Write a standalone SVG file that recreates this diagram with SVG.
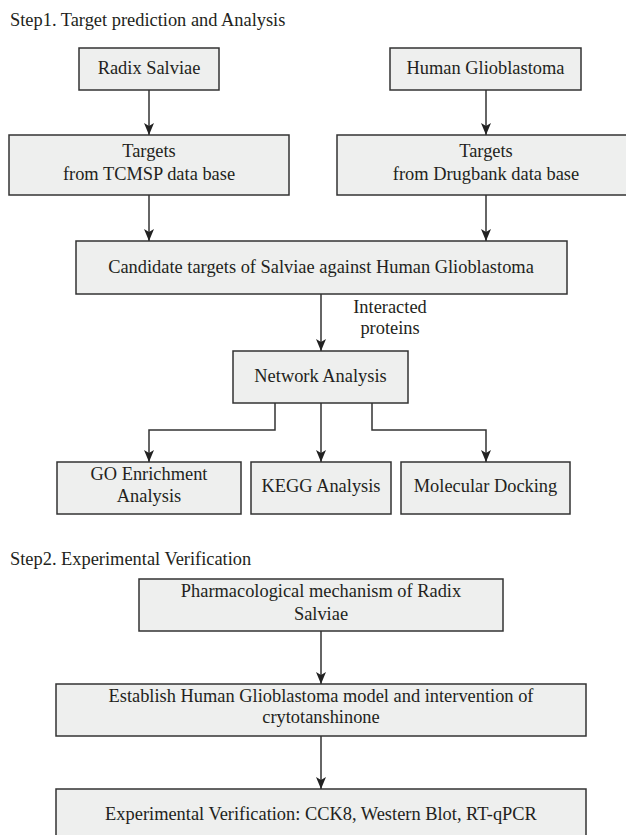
<svg xmlns="http://www.w3.org/2000/svg" width="626" height="835" viewBox="0 0 626 835">
<style>
  .box { fill: #eeefee; stroke: #333333; stroke-width: 1.5; }
  text { font-family: "Liberation Serif", "Times New Roman", serif; font-size: 18.4px; fill: #231f20; }
  .c { text-anchor: middle; }
  .conn { fill: none; stroke: #333333; stroke-width: 1.5; marker-end: url(#arrow); }
</style>
<defs>
  <marker id="arrow" viewBox="0 0 12 10" refX="12" refY="5" markerWidth="12" markerHeight="10" markerUnits="userSpaceOnUse" orient="auto">
    <path d="M0,0 L12,5 L0,10 L3,5 Z" fill="#222222"/>
  </marker>
</defs>
<rect width="626" height="835" fill="#ffffff"/>

<text id="step1" x="10" y="26">Step1. Target prediction and Analysis</text>

<g id="radix">
  <rect class="box" x="79" y="48" width="140" height="42"/>
  <text class="c" x="149" y="74">Radix Salviae</text>
</g>
<g id="human">
  <rect class="box" x="390" y="48" width="191" height="42"/>
  <text class="c" x="485.5" y="74">Human Glioblastoma</text>
</g>
<g id="tcmsp">
  <rect class="box" x="9" y="135" width="280" height="60"/>
  <text class="c" x="149" y="157">Targets</text>
  <text class="c" x="149" y="180">from TCMSP data base</text>
</g>
<g id="drugbank">
  <rect class="box" x="337" y="135" width="300" height="60"/>
  <text class="c" x="486" y="157">Targets</text>
  <text class="c" x="486" y="180">from Drugbank data base</text>
</g>
<g id="candidate">
  <rect class="box" x="76" y="241" width="491" height="53"/>
  <text class="c" x="321" y="273">Candidate targets of Salviae against Human Glioblastoma</text>
</g>
<g id="network">
  <rect class="box" x="233" y="351" width="175" height="52"/>
  <text class="c" x="320.5" y="382">Network Analysis</text>
</g>
<g id="go">
  <rect class="box" x="57" y="462" width="184" height="52"/>
  <text class="c" x="149" y="480">GO Enrichment</text>
  <text class="c" x="149" y="502">Analysis</text>
</g>
<g id="kegg">
  <rect class="box" x="251" y="462" width="140" height="52"/>
  <text class="c" x="321" y="492">KEGG Analysis</text>
</g>
<g id="docking">
  <rect class="box" x="401" y="462" width="169" height="52"/>
  <text class="c" x="485.5" y="492">Molecular Docking</text>
</g>

<text id="step2" x="10" y="565">Step2. Experimental Verification</text>

<g id="pharma">
  <rect class="box" x="139" y="579" width="364" height="52"/>
  <text class="c" x="321" y="597">Pharmacological mechanism of Radix</text>
  <text class="c" x="321" y="620">Salviae</text>
</g>
<g id="establish">
  <rect class="box" x="56" y="684" width="530" height="52"/>
  <text class="c" x="321" y="702">Establish Human Glioblastoma model and intervention of</text>
  <text class="c" x="321" y="723">crytotanshinone</text>
</g>
<g id="experimental">
  <rect class="box" x="56" y="789" width="530" height="60"/>
  <text class="c" x="321" y="820">Experimental Verification: CCK8, Western Blot, RT-qPCR</text>
</g>

<g id="connectors">
  <path class="conn" d="M149,90 L149,135"/>
  <path class="conn" d="M486,90 L486,135"/>
  <path class="conn" d="M149,195 L149,241"/>
  <path class="conn" d="M486,195 L486,241"/>
  <path class="conn" d="M321,294 L321,351"/>
  <text class="c" x="390" y="313">Interacted</text>
  <text class="c" x="390" y="334">proteins</text>
  <path class="conn" d="M275,403 L275,430 L149,430 L149,462"/>
  <path class="conn" d="M321,403 L321,462"/>
  <path class="conn" d="M372,403 L372,430 L486,430 L486,462"/>
  <path class="conn" d="M321,631 L321,684"/>
  <path class="conn" d="M321,736 L321,789"/>
</g>
</svg>
